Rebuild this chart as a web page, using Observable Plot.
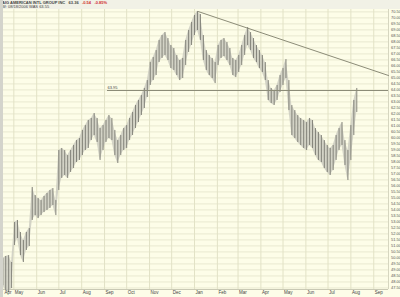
<!DOCTYPE html>
<html><head><meta charset="utf-8">
<script src="https://cdn.jsdelivr.net/npm/d3@7"></script>
<script src="https://cdn.jsdelivr.net/npm/@observablehq/plot@0.6"></script>
<style>
html,body{margin:0;padding:0;background:#fdfde8;}
#wrap{position:relative;width:400px;height:297px;overflow:hidden;font-family:"Liberation Sans",Arial,sans-serif;background:#fdfde8;}
#wrap svg{position:absolute;left:0;top:0;}
#hdr{position:absolute;left:0;top:0;width:400px;height:9px;background:#f1f1e6;}
#strip{position:absolute;left:0;top:0;width:3px;height:297px;background:#d4d4cc;}
.ln{position:absolute;left:2px;white-space:nowrap;color:#444;font-size:4px;line-height:4px;}
.red{color:#d03030;}
</style></head>
<body>
<div id="wrap">
  <div id="chart"></div>
  <div id="hdr">
    <div class="ln" style="top:1px;font-weight:bold;">AIG AMERICAN INTL GROUP INC&nbsp;&nbsp; 63.36 &nbsp;&nbsp;<span class="red">-0.54 &nbsp; -0.85%</span></div>
    <div class="ln" style="top:5px;">W: 08/18/2006 WAS 63.55</div>
  </div>
  <div id="strip"></div>
</div>
<script>
// ---- data (4-day samples of the daily bars) ----
const dates = ["2005-04-16","2005-04-20","2005-04-24","2005-04-28","2005-05-02","2005-05-06","2005-05-10","2005-05-14","2005-05-18","2005-05-22","2005-05-26","2005-05-30","2005-06-03","2005-06-07","2005-06-11","2005-06-15","2005-06-19","2005-06-23","2005-06-27","2005-07-01","2005-07-05","2005-07-09","2005-07-13","2005-07-17","2005-07-21","2005-07-25","2005-07-29","2005-08-02","2005-08-06","2005-08-10","2005-08-14","2005-08-18","2005-08-22","2005-08-26","2005-08-30","2005-09-03","2005-09-07","2005-09-11","2005-09-15","2005-09-19","2005-09-23","2005-09-27","2005-10-01","2005-10-05","2005-10-09","2005-10-13","2005-10-17","2005-10-21","2005-10-25","2005-10-29","2005-11-02","2005-11-06","2005-11-10","2005-11-14","2005-11-18","2005-11-22","2005-11-26","2005-11-30","2005-12-04","2005-12-08","2005-12-12","2005-12-16","2005-12-20","2005-12-24","2005-12-28","2006-01-01","2006-01-05","2006-01-09","2006-01-13","2006-01-17","2006-01-21","2006-01-25","2006-01-29","2006-02-02","2006-02-06","2006-02-10","2006-02-14","2006-02-18","2006-02-22","2006-02-26","2006-03-02","2006-03-06","2006-03-10","2006-03-14","2006-03-18","2006-03-22","2006-03-26","2006-03-30","2006-04-03","2006-04-07","2006-04-11","2006-04-15","2006-04-19","2006-04-23","2006-04-27","2006-05-01","2006-05-05","2006-05-09","2006-05-13","2006-05-17","2006-05-21","2006-05-25","2006-05-29","2006-06-02","2006-06-06","2006-06-10","2006-06-14","2006-06-18","2006-06-22","2006-06-26","2006-06-30","2006-07-04","2006-07-08","2006-07-12","2006-07-16","2006-07-20","2006-07-24","2006-07-28","2006-08-01","2006-08-05","2006-08-09"];
const highs = [49.95,50.12,50.20,49.62,52.95,53.12,52.12,51.45,52.12,52.45,55.87,55.20,54.95,54.78,55.12,55.37,55.62,55.78,54.78,58.95,59.12,58.95,58.53,58.95,59.37,59.78,59.95,60.62,61.03,61.45,61.62,62.03,61.62,60.78,61.03,61.45,61.87,61.62,60.62,59.78,60.20,60.78,61.03,61.62,62.12,62.70,63.12,63.53,64.12,64.78,66.28,66.70,67.28,68.12,68.53,68.78,68.28,67.70,67.45,66.87,66.45,66.62,68.12,68.95,69.62,70.20,70.53,70.28,68.53,67.28,66.87,66.62,66.28,67.70,68.12,68.28,67.95,67.45,66.62,66.45,66.87,67.70,68.53,69.20,68.78,68.28,67.70,67.28,66.87,66.28,64.78,64.12,63.95,64.37,65.20,65.78,66.53,64.78,62.70,62.28,61.87,61.62,61.45,61.28,61.62,61.45,60.78,60.45,60.20,59.78,59.37,59.12,59.37,60.20,60.78,61.28,59.78,58.95,61.03,63.12,64.12];
const lows = [47.70,47.28,47.12,47.45,51.03,51.62,50.20,49.62,50.62,50.95,53.12,53.53,53.28,53.53,53.78,53.95,54.12,54.37,53.53,55.62,56.62,56.87,56.62,57.12,57.45,57.95,58.12,58.53,58.95,59.12,59.78,60.20,59.62,58.12,58.95,59.62,59.95,59.78,58.53,57.87,58.53,58.95,59.12,59.78,60.20,60.78,61.28,61.87,62.45,63.37,64.37,64.78,65.20,66.28,66.62,66.87,66.45,65.78,65.62,65.20,64.78,64.95,66.03,67.12,67.70,68.53,68.95,68.12,66.45,65.62,65.20,64.95,64.53,66.03,66.62,66.78,66.45,66.03,65.20,65.03,65.45,66.03,66.87,67.70,67.28,66.62,66.28,65.78,65.45,64.78,63.12,62.87,62.70,63.12,63.78,64.37,64.95,62.28,60.20,59.95,59.62,59.37,59.12,58.95,59.37,59.12,58.53,58.12,57.95,57.45,57.12,56.87,57.28,58.12,58.95,59.37,57.70,56.45,58.12,60.20,62.12];

// support level and trend line drawn on the chart
const levelValue = 63.95;
const levelDates = ["2005-09-05","2006-09-21"];
const trendDates = ["2006-01-06","2006-09-21"];
const trendValues = [70.53,65.20];

// axis tick labels
const yTicks = [47.5,48.0,48.5,49.0,49.5,50.0,50.5,51.0,51.5,52.0,52.5,53.0,53.5,54.0,54.5,55.0,55.5,56.0,56.5,57.0,57.5,58.0,58.5,59.0,59.5,60.0,60.5,61.0,61.5,62.0,62.5,63.0,63.5,64.0,64.5,65.0,65.5,66.0,66.5,67.0,67.5,68.0,68.5,69.0,69.5,70.0,70.5];
const monthStarts = ["2005-05-01","2005-06-01","2005-07-01","2005-08-01","2005-09-01","2005-10-01","2005-11-01","2005-12-01","2006-01-01","2006-02-01","2006-03-01","2006-04-01","2006-05-01","2006-06-01","2006-07-01","2006-08-01","2006-09-01"];
const monthLabels = ["Apr","May","Jun","Jul","Aug","Sep","Oct","Nov","Dec","Jan","Feb","Mar","Apr","May","Jun","Jul","Aug","Sep"];
const xDomain = ["2005-04-17","2006-09-21"];
const yDomain = [47.37,70.70];

// ---- build ----
const D = s => new Date(s + "T00:00:00Z");
const bars = dates.map((d,i) => ({date: D(d), high: highs[i], low: lows[i]}));
const level = [{v: levelValue, s: D(levelDates[0]), e: D(levelDates[1])}];
const trend = trendDates.map((d,i) => ({date: D(d), value: trendValues[i]}));
const labelPos = [D(xDomain[0]), ...monthStarts.map(D)];
const labels = monthLabels.map((t,i) => ({t, x: labelPos[i]}));

const chart = Plot.plot({
  width: 400, height: 297,
  marginLeft: 3, marginRight: 12, marginTop: 9, marginBottom: 8,
  x: {type: "utc", domain: xDomain.map(D), axis: null},
  y: {domain: yDomain, axis: null},
  style: {background: "transparent", fontFamily: "Liberation Sans, Arial, sans-serif", color: "#444"},
  marks: [
    Plot.ruleY(yTicks, {stroke: "#e9e9d0", strokeWidth: 1}),
    Plot.ruleX(monthStarts.map(D), {stroke: "#e2e2c6", strokeWidth: 1}),
    Plot.ruleY([yDomain[0]], {stroke: "#c9c9b4"}),
    Plot.ruleX([D(xDomain[1])], {stroke: "#d6d6c0"}),
    Plot.areaY(bars, {x: "date", y1: "low", y2: "high", fill: "#c9c9be", fillOpacity: 0.8}),
    Plot.ruleX(bars, {x: "date", y1: "low", y2: "high", stroke: "#7a7a72", strokeWidth: 0.9}),
    Plot.ruleY(level, {y: "v", x1: "s", x2: "e", stroke: "#8c8c78", strokeWidth: 1}),
    Plot.line(trend, {x: "date", y: "value", stroke: "#8c8c78", strokeWidth: 1}),
    Plot.text(level, {x: "s", y: "v", text: d => d.v.toFixed(2), textAnchor: "start", dy: -2.5, fontSize: 4, fill: "#444"}),
    Plot.text(yTicks, {y: d => d, frameAnchor: "right", dx: 2.5, textAnchor: "start", text: d => d.toFixed(2), fontSize: 4, fill: "#555"}),
    Plot.text(labels, {x: "x", frameAnchor: "bottom", dy: 4.5, dx: 1, textAnchor: "start", text: "t", fontSize: 4.5, fill: "#444"})
  ]
});
document.getElementById("chart").appendChild(chart);
</script>
</body></html>
